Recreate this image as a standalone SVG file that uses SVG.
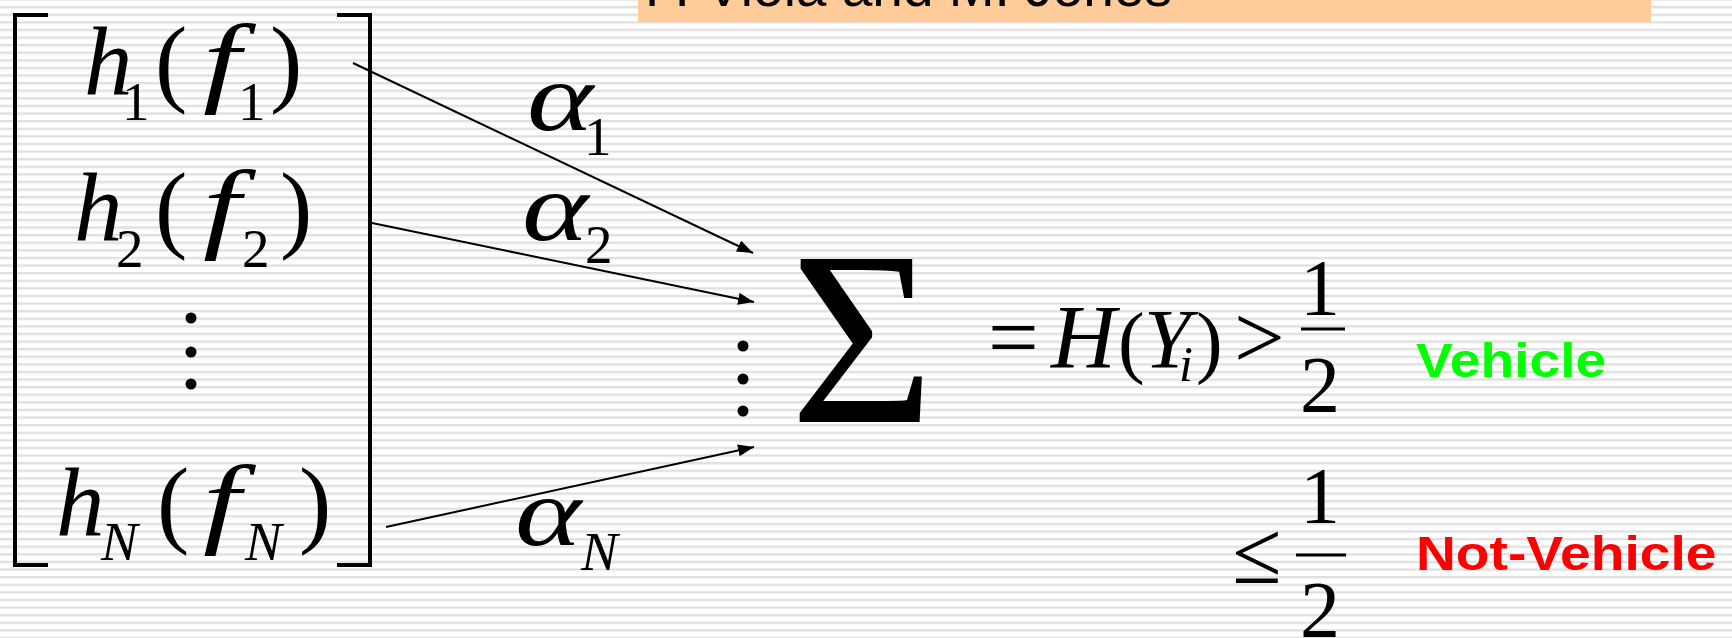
<svg xmlns="http://www.w3.org/2000/svg" width="1732" height="638" viewBox="0 0 1732 638">
<defs>
<pattern id="stripes" patternUnits="userSpaceOnUse" x="0" y="6" width="16" height="7.6">
<rect width="16" height="7.6" fill="#ffffff"/>
<rect y="0" width="16" height="2" fill="#e0e0e0"/>
<rect y="2" width="16" height="1" fill="#efefef"/>
</pattern>
<marker id="arr" markerUnits="userSpaceOnUse" markerWidth="18" markerHeight="14" refX="16" refY="6" orient="auto">
<path d="M0,0 L16,6 L0,12 z" fill="#000"/>
</marker>
<style>
.m{font-family:"Liberation Serif","Times New Roman",serif;fill:#000}
.i{font-style:italic}
.br{fill:none;stroke:#000;stroke-width:4;stroke-linecap:square}
.cn{stroke:#000;stroke-width:2;fill:none}
.lab{font-family:"Liberation Sans",Arial,sans-serif;font-weight:bold;font-size:48px}
</style>
</defs>
<rect width="1732" height="638" fill="url(#stripes)"/>
<g id="banner">
<rect x="638" y="-10" width="1013" height="32" fill="#ffcc99"/>
<text x="645" y="6" font-family="Liberation Sans, Arial, sans-serif" font-size="55" fill="#000">P. Viola and M. Jones</text>
</g>
<g id="vector">
<path class="br" d="M46,15 H15 V565 H46"/>
<path class="br" d="M339,15 H370 V565 H339"/>
<g id="row1">
<text class="m i" x="84" y="94" font-size="97">h</text>
<text class="m" x="122" y="120" font-size="55">1</text>
<text class="m" x="155" y="94" font-size="97">(</text>
<text class="m i" font-size="100" transform="translate(203,94) scale(1.35,1)">f</text>
<text class="m" x="238" y="120" font-size="55">1</text>
<text class="m" x="270" y="94" font-size="97">)</text>
</g>
<g id="row2">
<text class="m i" x="74" y="240" font-size="97">h</text>
<text class="m" x="116" y="267" font-size="55">2</text>
<text class="m" x="155" y="240" font-size="97">(</text>
<text class="m i" font-size="100" transform="translate(203,240) scale(1.35,1)">f</text>
<text class="m" x="242" y="267" font-size="55">2</text>
<text class="m" x="280" y="240" font-size="97">)</text>
</g>
<g id="vdots1">
<circle cx="191" cy="318" r="5.5"/>
<circle cx="191" cy="352" r="5.5"/>
<circle cx="191" cy="384" r="5.5"/>
</g>
<g id="rowN">
<text class="m i" x="56" y="535" font-size="97">h</text>
<text class="m i" x="101" y="560" font-size="55">N</text>
<text class="m" x="157" y="535" font-size="97">(</text>
<text class="m i" font-size="100" transform="translate(203,535) scale(1.35,1)">f</text>
<text class="m i" x="245" y="560" font-size="55">N</text>
<text class="m" x="299" y="535" font-size="97">)</text>
</g>
</g>
<g id="connectors">
<line class="cn" x1="353" y1="63" x2="753" y2="253" marker-end="url(#arr)"/>
<line class="cn" x1="372" y1="223" x2="754" y2="302" marker-end="url(#arr)"/>
<line class="cn" x1="386" y1="527" x2="754" y2="447" marker-end="url(#arr)"/>
</g>
<g id="weights">
<text class="m i" font-size="97" transform="translate(527,130) scale(1.3,1)">α</text>
<text class="m" x="584" y="155" font-size="55">1</text>
<text class="m i" font-size="97" transform="translate(522,240) scale(1.3,1)">α</text>
<text class="m" x="585" y="263" font-size="55">2</text>
<text class="m i" font-size="97" transform="translate(515,545) scale(1.3,1)">α</text>
<text class="m i" x="581" y="570" font-size="55">N</text>
</g>
<g id="vdots2">
<circle cx="743" cy="346" r="5.5"/>
<circle cx="743" cy="379" r="5.5"/>
<circle cx="743" cy="411" r="5.5"/>
</g>
<g id="sum">
<text class="m" x="790" y="422" font-size="248">Σ</text>
</g>
<g id="result">
<text class="m" x="988" y="368" font-size="90">=</text>
<text class="m i" x="1051" y="368" font-size="90">H</text>
<text class="m" x="1118" y="368" font-size="80">(</text>
<text class="m i" x="1144" y="368" font-size="84">Y</text>
<text class="m i" x="1179" y="381" font-size="50">i</text>
<text class="m" x="1196" y="368" font-size="80">)</text>
<text class="m" x="1234" y="368" font-size="90">&gt;</text>
<text class="m" x="1300" y="315" font-size="80">1</text>
<rect x="1301" y="327.5" width="44" height="3" fill="#000"/>
<text class="m" x="1300" y="412" font-size="80">2</text>
</g>
<g id="result2">
<text class="m" x="1232" y="583" font-size="90">≤</text>
<text class="m" x="1300" y="523" font-size="80">1</text>
<rect x="1296" y="553.5" width="50" height="3" fill="#000"/>
<text class="m" x="1300" y="637" font-size="80">2</text>
</g>
<g id="labels">
<text class="lab" transform="translate(1416,377) scale(1.15,1)" fill="#00ff00">Vehicle</text>
<text class="lab" transform="translate(1416,570) scale(1.15,1)" fill="#ff0000">Not-Vehicle</text>
</g>
</svg>
